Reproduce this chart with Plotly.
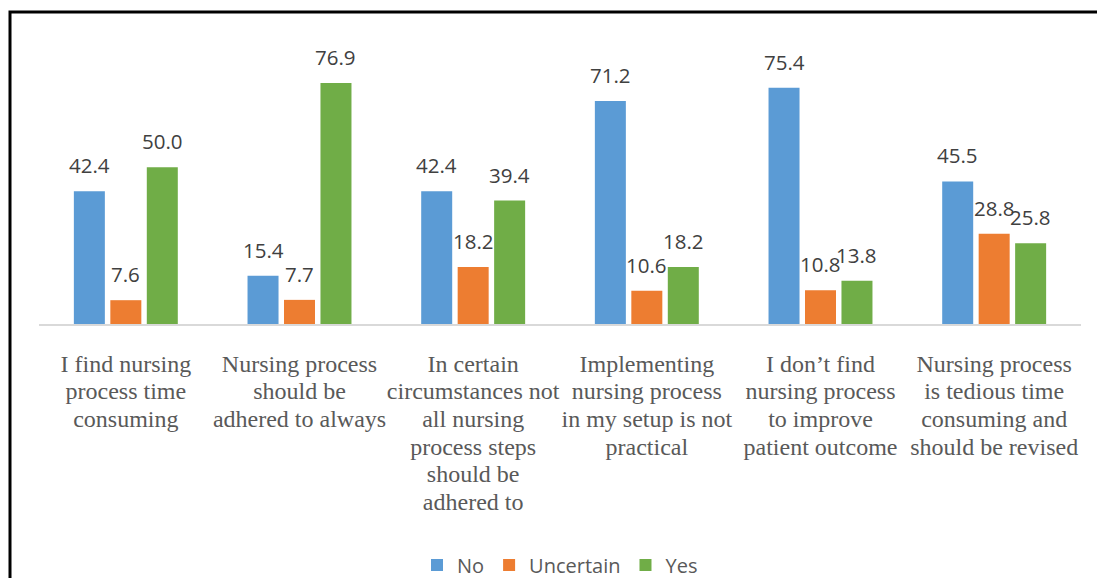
import plotly.graph_objects as go

categories = [
    "I find nursing<br>process time<br>consuming",
    "Nursing process<br>should be<br>adhered to always",
    "In certain<br>circumstances not<br>all nursing<br>process steps<br>should be<br>adhered to",
    "Implementing<br>nursing process<br>in my setup is not<br>practical",
    "I don’t find<br>nursing process<br>to improve<br>patient outcome",
    "Nursing process<br>is tedious time<br>consuming and<br>should be revised",
]
series_names = ["No", "Uncertain", "Yes"]
no_vals = [42.4, 15.4, 42.4, 71.2, 75.4, 45.5]
uncertain_vals = [7.6, 7.7, 18.2, 10.6, 10.8, 28.8]
yes_vals = [50.0, 76.9, 39.4, 18.2, 13.8, 25.8]

colors = ["#5B9BD5", "#ED7D31", "#70AD47"]
all_vals = [no_vals, uncertain_vals, yes_vals]

W, H = 1097, 578
ML, MR, MT, MB = 39, 16, 42, 254
BARGAP = 0.37
BARGROUPGAP = 0.15
LABEL_FONT = "Open Sans, Liberation Sans, sans-serif"

fig = go.Figure()
for name, vals, col in zip(series_names, all_vals, colors):
    fig.add_trace(go.Bar(
        name=name, x=list(range(len(categories))), y=vals,
        marker=dict(color=col, line=dict(width=0)),
    ))

# data labels positioned over each bar via the axis scale
slot = (1 - BARGAP) / len(series_names)
annotations = []
for k, vals in enumerate(all_vals):
    for i, v in enumerate(vals):
        annotations.append(dict(
            x=i + (k - 1) * slot, y=v, xref="x", yref="y",
            text=f"{v:.1f}", showarrow=False, yanchor="middle", yshift=26,
            font=dict(family=LABEL_FONT, size=20.5, color="#404040"),
        ))

# larger glyphs with Excel-like tight line spacing
tick_text = ["<br>".join(f"<span style='font-size:24px'>{ln}</span>" for ln in c.split("<br>"))
             for c in categories]

fig.update_layout(
    width=W, height=H,
    margin=dict(l=ML, r=MR, t=MT, b=MB),
    paper_bgcolor="white", plot_bgcolor="white",
    barmode="group", bargap=BARGAP, bargroupgap=BARGROUPGAP,
    showlegend=True,
    legend=dict(
        orientation="h", x=0.5, xanchor="center",
        yref="container", y=1 - 565 / H, yanchor="middle",
        font=dict(family=LABEL_FONT, size=20, color="#595959"),
        traceorder="normal",
    ),
    annotations=annotations,
    xaxis=dict(
        tickmode="array", tickvals=list(range(len(categories))), ticktext=tick_text,
        range=[-0.5, len(categories) - 0.5],
        showline=True, linecolor="#D9D9D9", linewidth=2,
        showgrid=False, zeroline=False, ticks="",
        ticklabelstandoff=20,
        tickfont=dict(family="Liberation Serif, Times New Roman, serif", size=21.3, color="#595959"),
        tickangle=0,
    ),
    yaxis=dict(visible=False, range=[0, 90], showgrid=False, zeroline=False),
    shapes=[dict(
        type="rect", xref="paper", yref="paper",
        x0=(10 - ML) / (W - ML - MR), x1=1.2,
        y0=-2, y1=(H - MB - 12) / (H - MT - MB),
        line=dict(color="black", width=3), fillcolor="rgba(0,0,0,0)",
    )],
)

fig.write_html(
    "out.html",
    config={"displayModeBar": False},
    post_script="document.body.style.margin='0';document.body.style.overflow='hidden';",
)
